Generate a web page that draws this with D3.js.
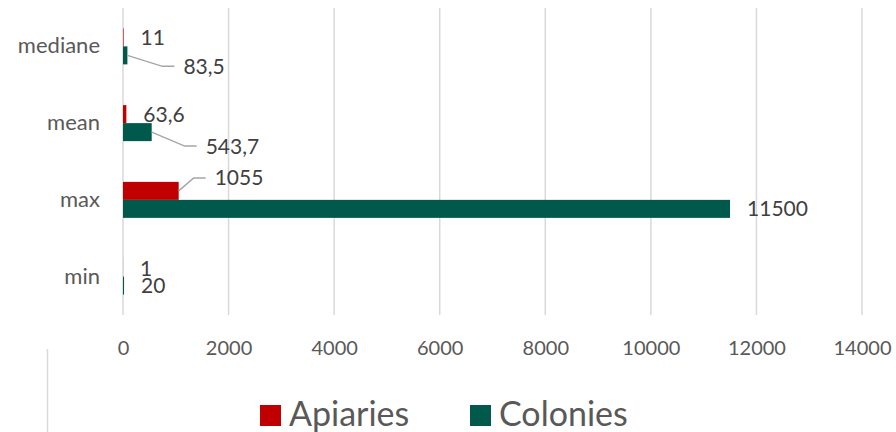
<!DOCTYPE html>
<html>
<head>
<meta charset="utf-8">
<script src="https://cdn.jsdelivr.net/npm/d3@7"></script>
<style>
  body { margin: 0; background: #fff; }
  svg { display: block; font-family: Lato, "Open Sans", sans-serif; }
</style>
</head>
<body>
<div id="chart"></div>
<script>
// data
const categories = ["mediane", "mean", "max", "min"];
const seriesNames = ["Apiaries", "Colonies"];
const apiaries = [11, 63.6, 1055, 1];
const colonies = [83.5, 543.7, 11500, 20];
const ticks = [0, 2000, 4000, 6000, 8000, 10000, 12000, 14000];

const colors = { Apiaries: "#C00000", Colonies: "#00594A" };

// labels that were dragged away from the bar end (with a leader line)
const moved = {
  "mediane|Colonies": { dx: 56, dy: 11 },
  "mean|Colonies": { dx: 54, dy: 14 },
  "max|Apiaries": { dx: 36, dy: -13 },
  "min|Apiaries": { dx: 17, dy: 1 }
};

const width = 896, height = 432;
const svg = d3.select("#chart").append("svg")
  .attr("width", width).attr("height", height);

const x = d3.scaleLinear().domain([0, 14000]).range([123, 862]);
const y = d3.scaleBand().domain(categories).range([8, 315])
  .paddingInner(0.531).paddingOuter(0.2655);
const ySub = d3.scaleBand().domain(seriesNames).range([0, y.bandwidth()]);

// gridlines
svg.append("g")
  .selectAll("line")
  .data(ticks)
  .join("line")
  .attr("x1", d => x(d)).attr("x2", d => x(d))
  .attr("y1", 8).attr("y2", 315)
  .attr("stroke", "#D9D9D9")
  .attr("stroke-width", 1.5);

// tick labels
const xAxis = d3.axisBottom(x).tickValues(ticks).tickSize(0).tickPadding(0)
  .tickFormat(d3.format("d"));
const gx = svg.append("g").attr("transform", "translate(0,341)").call(xAxis);
gx.select(".domain").remove();
gx.selectAll("text")
  .attr("font-size", 20)
  .attr("font-family", "Lato, sans-serif")
  .attr("fill", "#595959");

// category labels
const yAxis = d3.axisLeft(y).tickSize(0).tickPadding(0);
const gy = svg.append("g").attr("transform", "translate(100,0)").call(yAxis);
gy.select(".domain").remove();
gy.selectAll("text")
  .attr("font-size", 22)
  .attr("font-family", "Lato, sans-serif")
  .attr("fill", "#595959");

const rows = [];
categories.forEach((c, i) => {
  rows.push({ cat: c, series: "Apiaries", value: apiaries[i] });
  rows.push({ cat: c, series: "Colonies", value: colonies[i] });
});

// bars
svg.append("g")
  .selectAll("rect")
  .data(rows)
  .join("rect")
  .attr("x", x(0))
  .attr("y", d => y(d.cat) + ySub(d.series))
  .attr("width", d => x(d.value) - x(0))
  .attr("height", ySub.bandwidth())
  .attr("fill", d => colors[d.series]);

// data labels
const labels = svg.append("g");
rows.forEach(d => {
  const xe = x(d.value);
  const yc = y(d.cat) + ySub(d.series) + ySub.bandwidth() / 2;
  const m = moved[d.cat + "|" + d.series];
  const lx = xe + (m ? m.dx : 17);
  const ly = yc + (m ? m.dy : 0);
  if (m && Math.abs(m.dy) > 5) {
    labels.append("polyline")
      .attr("points", [[xe, yc], [lx - 21, ly], [lx - 9, ly]].map(p => p.join(",")).join(" "))
      .attr("fill", "none")
      .attr("stroke", "#A6A6A6")
      .attr("stroke-width", 1.5);
  }
  labels.append("text")
    .attr("x", lx)
    .attr("y", ly)
    .attr("dy", "0.36em")
    .attr("font-size", 21)
    .attr("fill", "#404040")
    .text(String(d.value).replace(".", ","));
});

// stray border line at the bottom left
svg.append("line")
  .attr("x1", 47.5).attr("x2", 47.5)
  .attr("y1", 349).attr("y2", 432)
  .attr("stroke", "#D9D9D9")
  .attr("stroke-width", 1.5);

// legend
const legend = svg.append("g");
const legendX = [260, 470];
seriesNames.forEach((s, i) => {
  legend.append("rect")
    .attr("x", legendX[i]).attr("y", 405)
    .attr("width", 21).attr("height", 21)
    .attr("fill", colors[s]);
  legend.append("text")
    .attr("x", legendX[i] + 29).attr("y", 426)
    .attr("font-size", 34)
    .attr("fill", "#595959")
    .text(s);
});
</script>
</body>
</html>
